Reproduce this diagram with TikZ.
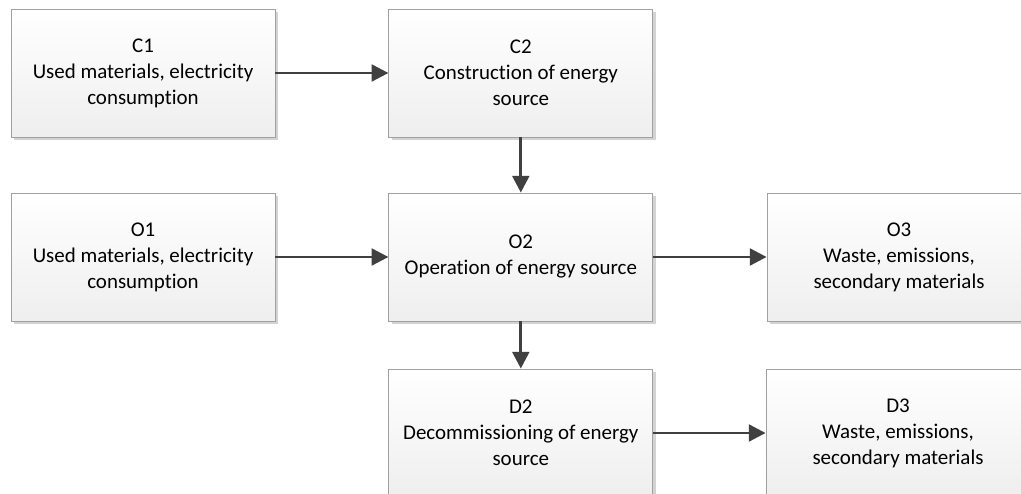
\documentclass[tikz,border=0pt]{standalone}
\usepackage{fontspec}
\setmainfont[Ligatures=NoCommon]{Carlito}
\usepackage{xcolor}
\usepackage{tikz}
\usetikzlibrary{positioning,calc,shadows,arrows.meta}

\definecolor{boxline}{HTML}{A0A0A0}
\definecolor{arrowgray}{HTML}{404040}

\begin{document}
\begin{tikzpicture}[
    stage/.style={draw=boxline, line width=0.6pt, top color=white, bottom color=gray!13,
        minimum width=6.6cm, minimum height=3.2cm, align=center, inner sep=2pt,
        font=\fontsize{14.9}{18.5}\selectfont,
        drop shadow={shadow xshift=0.07cm, shadow yshift=-0.07cm, fill=gray, opacity=0.35}},
    flow/.style={draw=arrowgray, line width=2.1pt, -{Triangle[length=0.42cm, width=0.42cm]}}
]
    \useasboundingbox (0,0) rectangle (25.525,12.325);
    \clip (0,0) rectangle (25.525,12.325);

    % Construction
    \node[stage] (c1) at (3.575,10.5) {C1\\Used materials, electricity\\consumption};
    \node[stage] (c2) at (13.02,10.5) {C2\\Construction of energy\\source};

    % Operation
    \node[stage] (o1) at (3.575,5.9) {O1\\Used materials, electricity\\consumption};
    \node[stage] (o2) at (13.02,5.9) {O2\\Operation of energy source};
    \node[stage] (o3) at (22.475,5.9) {O3\\Waste, emissions,\\secondary materials};

    % Decommissioning
    \node[stage] (d2) at (13.02,1.5) {D2\\Decommissioning of energy\\source};
    \node[stage] (d3) at (22.45,1.5) {D3\\Waste, emissions,\\secondary materials};

    % Flows
    \draw[flow] (c1) -- (c2);
    \draw[flow] (c2) -- (o2);
    \draw[flow] (o1) -- (o2);
    \draw[flow] (o2) -- (o3);
    \draw[flow] (o2) -- (d2);
    \draw[flow] (d2) -- (d3);
\end{tikzpicture}
\end{document}
